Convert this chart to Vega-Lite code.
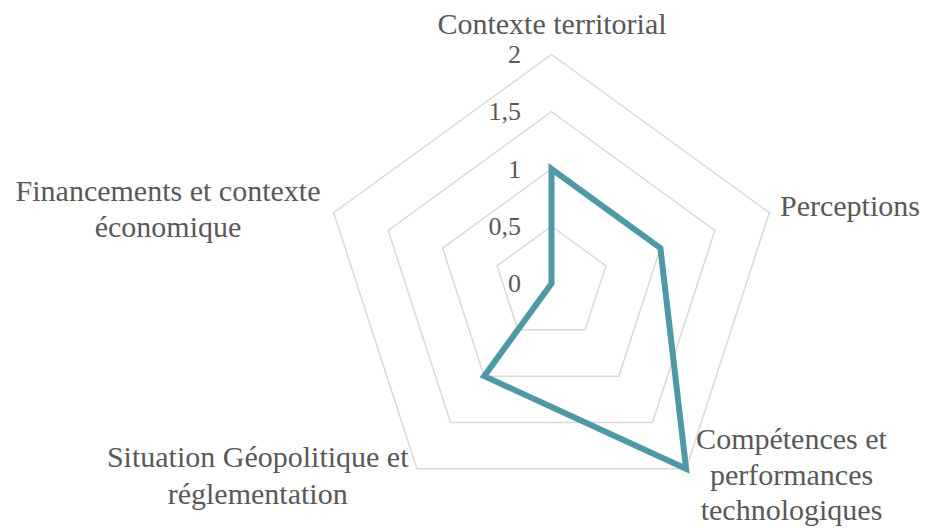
{
  "$schema": "https://vega.github.io/schema/vega-lite/v6.json",
  "width": 926,
  "height": 528,
  "autosize": "none",
  "padding": 0,
  "background": "white",
  "config": {
    "view": {"stroke": null},
    "locale": {"number": {"decimal": ",", "thousands": " ", "grouping": [3], "currency": ["", " €"]}},
    "text": {"font": "Liberation Serif", "color": "#595959"},
    "mark": {"font": "Liberation Serif"}
  },
  "datasets": {
    "scores": [
      {"axe": "Contexte territorial", "libelle": "Contexte territorial", "score": 1},
      {"axe": "Perceptions", "libelle": "Perceptions", "score": 1},
      {"axe": "Compétences et performances technologiques", "libelle": "Compétences et\nperformances\ntechnologiques", "score": 2},
      {"axe": "Situation Géopolitique et réglementation", "libelle": "Situation Géopolitique et\nréglementation", "score": 1},
      {"axe": "Financements et contexte économique", "libelle": "Financements et contexte\néconomique", "score": 0}
    ],
    "grille": [
      {"niveau": 0.5, "axe": "Contexte territorial"},
      {"niveau": 0.5, "axe": "Perceptions"},
      {"niveau": 0.5, "axe": "Compétences et performances technologiques"},
      {"niveau": 0.5, "axe": "Situation Géopolitique et réglementation"},
      {"niveau": 0.5, "axe": "Financements et contexte économique"},
      {"niveau": 1, "axe": "Contexte territorial"},
      {"niveau": 1, "axe": "Perceptions"},
      {"niveau": 1, "axe": "Compétences et performances technologiques"},
      {"niveau": 1, "axe": "Situation Géopolitique et réglementation"},
      {"niveau": 1, "axe": "Financements et contexte économique"},
      {"niveau": 1.5, "axe": "Contexte territorial"},
      {"niveau": 1.5, "axe": "Perceptions"},
      {"niveau": 1.5, "axe": "Compétences et performances technologiques"},
      {"niveau": 1.5, "axe": "Situation Géopolitique et réglementation"},
      {"niveau": 1.5, "axe": "Financements et contexte économique"},
      {"niveau": 2, "axe": "Contexte territorial"},
      {"niveau": 2, "axe": "Perceptions"},
      {"niveau": 2, "axe": "Compétences et performances technologiques"},
      {"niveau": 2, "axe": "Situation Géopolitique et réglementation"},
      {"niveau": 2, "axe": "Financements et contexte économique"}
    ],
    "graduations": [
      {"niveau": 0},
      {"niveau": 0.5},
      {"niveau": 1},
      {"niveau": 1.5},
      {"niveau": 2}
    ]
  },
  "encoding": {
    "x": {"field": "px", "type": "quantitative", "scale": {"domain": [-4.8166, 3.2707], "nice": false, "zero": false}, "axis": null},
    "y": {"field": "py", "type": "quantitative", "scale": {"domain": [-2.1354, 2.476], "nice": false, "zero": false}, "axis": null}
  },
  "layer": [
    {
      "data": {"name": "grille"},
      "transform": [
        {"window": [{"op": "row_number", "as": "rang"}], "groupby": ["niveau"]},
        {"calculate": "(datum.rang - 1) * 2 * PI / 5", "as": "ang"},
        {"calculate": "datum.niveau * sin(datum.ang)", "as": "px"},
        {"calculate": "datum.niveau * cos(datum.ang)", "as": "py"}
      ],
      "mark": {"type": "line", "interpolate": "linear-closed", "color": "#D9D9D9", "strokeWidth": 1.5},
      "encoding": {
        "detail": {"field": "niveau", "type": "nominal"},
        "order": {"field": "rang", "type": "quantitative"}
      }
    },
    {
      "data": {"name": "graduations"},
      "transform": [
        {"calculate": "0", "as": "px"},
        {"calculate": "datum.niveau", "as": "py"}
      ],
      "mark": {"type": "text", "font": "Liberation Serif", "color": "#595959", "align": "right", "baseline": "alphabetic", "dx": -30.5, "dy": 8.5, "fontSize": 26},
      "encoding": {
        "text": {"field": "niveau", "type": "quantitative", "format": "~g"}
      }
    },
    {
      "data": {"name": "scores"},
      "transform": [
        {"window": [{"op": "row_number", "as": "rang"}]},
        {"calculate": "(datum.rang - 1) * 2 * PI / 5", "as": "ang"},
        {"calculate": "datum.score * sin(datum.ang)", "as": "px"},
        {"calculate": "datum.score * cos(datum.ang)", "as": "py"}
      ],
      "mark": {"type": "line", "interpolate": "linear-closed", "color": "#4F98A6", "strokeWidth": 6, "strokeJoin": "miter"},
      "encoding": {
        "order": {"field": "rang", "type": "quantitative"}
      }
    },
    {
      "data": {"name": "scores"},
      "transform": [
        {"window": [{"op": "row_number", "as": "rang"}]},
        {"filter": "datum.rang == 1"},
        {"calculate": "(datum.rang - 1) * 2 * PI / 5", "as": "ang"},
        {"calculate": "2 * sin(datum.ang)", "as": "px"},
        {"calculate": "2 * cos(datum.ang)", "as": "py"}
      ],
      "mark": {"type": "text", "font": "Liberation Serif", "color": "#595959", "align": "center", "baseline": "alphabetic", "dx": 0.5, "dy": -21, "fontSize": 30, "lineBreak": "\n", "lineHeight": 36.6},
      "encoding": {"text": {"field": "libelle", "type": "nominal"}}
    },
    {
      "data": {"name": "scores"},
      "transform": [
        {"window": [{"op": "row_number", "as": "rang"}]},
        {"filter": "datum.rang == 2"},
        {"calculate": "(datum.rang - 1) * 2 * PI / 5", "as": "ang"},
        {"calculate": "2 * sin(datum.ang)", "as": "px"},
        {"calculate": "2 * cos(datum.ang)", "as": "py"}
      ],
      "mark": {"type": "text", "font": "Liberation Serif", "color": "#595959", "align": "left", "baseline": "alphabetic", "dx": 10.7, "dy": 3.3, "fontSize": 30, "lineBreak": "\n", "lineHeight": 36.6},
      "encoding": {"text": {"field": "libelle", "type": "nominal"}}
    },
    {
      "data": {"name": "scores"},
      "transform": [
        {"window": [{"op": "row_number", "as": "rang"}]},
        {"filter": "datum.rang == 3"},
        {"calculate": "(datum.rang - 1) * 2 * PI / 5", "as": "ang"},
        {"calculate": "2 * sin(datum.ang)", "as": "px"},
        {"calculate": "2 * cos(datum.ang)", "as": "py"}
      ],
      "mark": {"type": "text", "font": "Liberation Serif", "color": "#595959", "align": "center", "baseline": "alphabetic", "dx": 105.4, "dy": -19.5, "fontSize": 30, "lineBreak": "\n", "lineHeight": 35.5},
      "encoding": {"text": {"field": "libelle", "type": "nominal"}}
    },
    {
      "data": {"name": "scores"},
      "transform": [
        {"window": [{"op": "row_number", "as": "rang"}]},
        {"filter": "datum.rang == 4"},
        {"calculate": "(datum.rang - 1) * 2 * PI / 5", "as": "ang"},
        {"calculate": "2 * sin(datum.ang)", "as": "px"},
        {"calculate": "2 * cos(datum.ang)", "as": "py"}
      ],
      "mark": {"type": "text", "font": "Liberation Serif", "color": "#595959", "align": "center", "baseline": "alphabetic", "dx": -159.2, "dy": -1.5, "fontSize": 30, "lineBreak": "\n", "lineHeight": 36.6},
      "encoding": {"text": {"field": "libelle", "type": "nominal"}}
    },
    {
      "data": {"name": "scores"},
      "transform": [
        {"window": [{"op": "row_number", "as": "rang"}]},
        {"filter": "datum.rang == 5"},
        {"calculate": "(datum.rang - 1) * 2 * PI / 5", "as": "ang"},
        {"calculate": "2 * sin(datum.ang)", "as": "px"},
        {"calculate": "2 * cos(datum.ang)", "as": "py"}
      ],
      "mark": {"type": "text", "font": "Liberation Serif", "color": "#595959", "align": "center", "baseline": "alphabetic", "dx": -165.7, "dy": -12, "fontSize": 30, "lineBreak": "\n", "lineHeight": 36.6},
      "encoding": {"text": {"field": "libelle", "type": "nominal"}}
    }
  ]
}
